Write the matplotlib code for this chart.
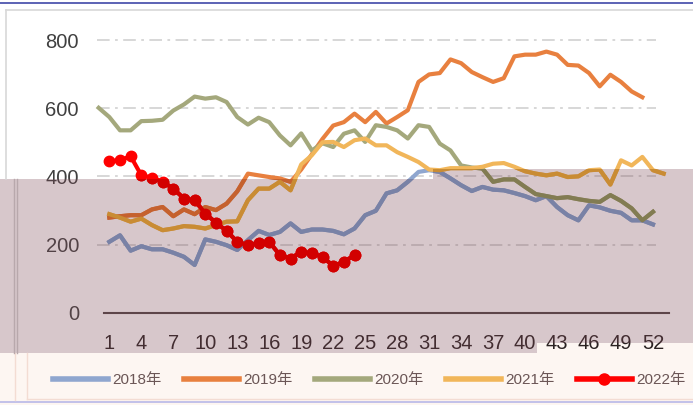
import numpy as np
import matplotlib
matplotlib.use("Agg")
import matplotlib.pyplot as plt
from matplotlib.lines import Line2D
from matplotlib.patches import Polygon, Rectangle

plt.rcParams['font.family'] = ['Liberation Sans', 'Noto Sans CJK SC', 'DejaVu Sans']

# ---------------- datos ----------------
labels = ["2018年", "2019年", "2020年", "2021年", "2022年"]
xticks = list(range(1, 53, 3))
yticks = [0, 200, 400, 600, 800]

v2018 = [208, 227, 182, 195, 186, 186, 176, 164, 140, 215,
         208, 198, 184, 213, 240, 228, 237, 262, 237, 244,
         244, 240, 230, 247, 286, 299, 350, 359, 384, 413,
         418, 413, 394, 374, 357, 369, 361, 359, 351, 342,
         330, 342, 310, 286, 271, 315, 309, 299, 293, 271,
         271, 259]
v2019 = [279, 283, 286, 286, 303, 310, 283, 303, 289, 310,
         301, 320, 356, 408, 403, 398, 394, 384, 420, 465,
         510, 549, 559, 584, 559, 589, 555, 574, 594, 677,
         699, 703, 743, 732, 706, 691, 677, 688, 752, 757,
         757, 766, 757, 727, 725, 703, 664, 698, 677, 649,
         632]
v2020 = [601, 574, 535, 535, 562, 563, 566, 593, 611, 634,
         628, 632, 618, 574, 552, 572, 559, 520, 491, 526,
         476, 497, 486, 525, 535, 501, 550, 545, 535, 511,
         550, 545, 496, 476, 432, 426, 423, 384, 391, 391,
         369, 348, 342, 336, 339, 333, 328, 325, 345, 328,
         306, 271, 296]
v2021 = [289, 279, 267, 276, 257, 242, 247, 254, 252, 247,
         257, 267, 268, 330, 364, 364, 384, 359, 435, 462,
         500, 501, 486, 506, 511, 491, 491, 471, 457, 442,
         420, 418, 424, 424, 424, 428, 437, 439, 428, 415,
         408, 403, 408, 398, 400, 418, 420, 376, 447, 432,
         457, 418, 408]
v2022 = [445, 447, 459, 403, 396, 384, 364, 335, 330, 291,
         264, 240, 208, 198, 205, 208, 169, 159, 179, 174,
         164, 137, 149, 169]

# colores normales y colores "bajo la ventana" (multiplicados)
c18, d18 = '#8FA6CF', '#7982A6'
c19, d19 = '#E8803F', '#C5612E'
c20, d20 = '#A4A87C', '#827C52'
c21, d21 = '#F1B65A', '#C98C34'
c22, d22 = '#FF0000', '#D20000'

W, H = 693, 405
fig = plt.figure(figsize=(W / 100, H / 100), dpi=100)

def fx(px):
    return px / W

def fy(py):
    return 1 - py / H

ax = fig.add_axes([fx(104), fy(312.7), (669 - 104) / W, (312.7 - 40) / H])
ax.set_facecolor('none')
ax.set_xlim(0.5, 53.5)
ax.set_ylim(0, 800)
for s in ['top', 'right', 'left']:
    ax.spines[s].set_visible(False)
ax.spines['bottom'].set_color('#504545')
ax.spines['bottom'].set_linewidth(1.5)

# lineas de grilla punto-raya
for g in yticks[1:]:
    ax.plot([-0.2, 52.3], [g, g], color='#D4D4D4', lw=1.3,
            ls=(0, (7, 3, 1.5, 3)), clip_on=False, zorder=1)

series = [(np.arange(1, len(v2018) + 1), v2018, c18, d18),
          (np.arange(1, len(v2019) + 1), v2019, c19, d19),
          (np.arange(0, len(v2020)), v2020, c20, d20),
          (np.arange(1, len(v2021) + 1), v2021, c21, d21)]
lw = 3
for xs, ys, c, d in series:
    ax.plot(xs, ys, color=c, lw=lw, clip_on=False, zorder=3)
ax.plot(np.arange(1, len(v2022) + 1), v2022, color=c22, lw=lw, marker='o',
        ms=7.5, clip_on=False, zorder=4)

ax.set_xticks(xticks)
ax.set_yticks(yticks)
ax.tick_params(axis='both', length=0, labelsize=14.5)
ax.tick_params(axis='y', pad=18, colors='#404040')
ax.tick_params(axis='x', pad=15, colors='#2A2222')

# ---------------- marco / bandas de la captura ----------------
fig.add_artist(Rectangle((0, 0), 1, fy(353), transform=fig.transFigure,
                         facecolor='#FDF6F2', edgecolor='none', zorder=-5))
fig.add_artist(Rectangle((fx(537), fy(353)), 1 - fx(537), fy(343) - fy(353),
                         transform=fig.transFigure, facecolor='#FDF6F2',
                         edgecolor='none', zorder=-5))
fig.add_artist(Line2D([0, 1], [fy(3), fy(3)], color='#3F48A8', lw=1.2))
fig.add_artist(Line2D([fx(6), 1], [fy(10), fy(10)], color='#D8D8D8', lw=1.2))
fig.add_artist(Line2D([fx(6), fx(6)], [fy(10), fy(179)], color='#D8D8D8', lw=1.2))
fig.add_artist(Line2D([0, 1], [fy(402), fy(402)], color='#B8B8E8', lw=1.2))
fig.add_artist(Line2D([fx(27), 1], [fy(399), fy(399)], color='#F3DCD3', lw=1))
fig.add_artist(Line2D([fx(27), fx(27)], [fy(353), fy(399)], color='#F3DCD3', lw=1))
fig.add_artist(Line2D([fx(15), fx(15)], [fy(353), fy(400)], color='#F3DCD3', lw=1))

# ventana superpuesta (rosa translúcido), dentro del eje para poder recortar
pts = [(0, 179), (433, 179), (433, 169), (693, 169), (693, 343),
       (537, 343), (537, 353), (0, 353)]
over = Polygon([(fx(a), fy(b)) for a, b in pts], closed=True,
               transform=fig.transFigure, facecolor='#7D4855',
               alpha=0.3, edgecolor='none', zorder=5, clip_on=False)
ax.add_artist(over)
clip = Polygon([(fx(a), fy(b)) for a, b in pts], closed=True,
               transform=fig.transFigure, facecolor='none', edgecolor='none')

# lineas vistas a traves de la ventana (color oscurecido)
for xs, ys, c, d in series:
    ln, = ax.plot(xs, ys, color=d, lw=lw, zorder=6)
    ln.set_clip_path(clip)
ln, = ax.plot(np.arange(1, len(v2022) + 1), v2022, color=d22, lw=lw, marker='o',
              ms=7.5, zorder=7)
ln.set_clip_path(clip)

fig.add_artist(Line2D([fx(14), fx(14)], [fy(179), fy(353)], color='#B8A8AC', lw=1, zorder=3))
fig.add_artist(Line2D([fx(17), fx(17)], [fy(179), fy(353)], color='#B8A8AC', lw=1, zorder=3))

# ---------------- leyenda ----------------
handles = [Line2D([], [], color=c18, lw=4),
           Line2D([], [], color=c19, lw=4),
           Line2D([], [], color=c20, lw=4),
           Line2D([], [], color=c21, lw=4),
           Line2D([], [], color=c22, lw=4, marker='o', ms=8)]
leg = fig.legend(handles, labels, loc='center', bbox_to_anchor=(fx(369), fy(380)),
                 ncol=5, frameon=False, fontsize=11, handlelength=3.6,
                 handletextpad=0.3, columnspacing=1.45, borderpad=0)
for t in leg.get_texts():
    t.set_color('#6B5656')
leg.set_zorder(6)

fig.savefig("out.png", dpi=100)
